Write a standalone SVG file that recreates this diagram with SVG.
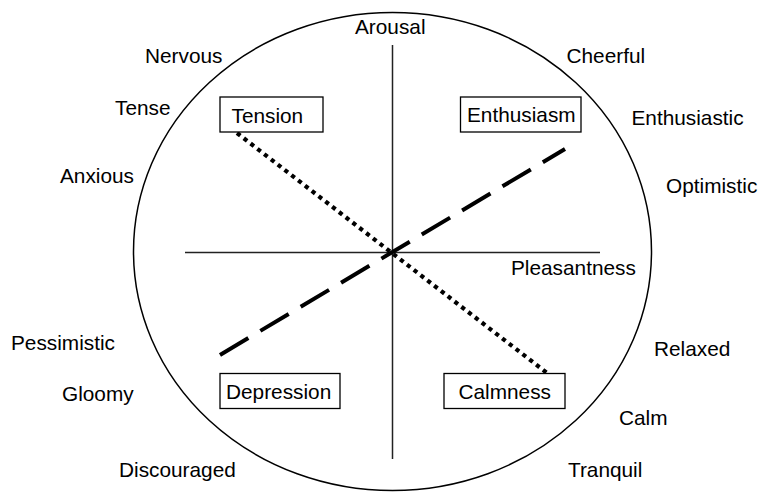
<svg xmlns="http://www.w3.org/2000/svg" width="760" height="493" viewBox="0 0 760 493">
<style>
text{font-family:"Liberation Sans",Arial,sans-serif;font-size:20.8px;fill:#000}
.box{fill:#fff;stroke:#000;stroke-width:1.3}
.axis{stroke:#222;stroke-width:1.5;fill:none}
</style>
<rect width="760" height="493" fill="#fff"/>
<ellipse cx="392.5" cy="251.5" rx="259" ry="239" fill="none" stroke="#000" stroke-width="1.5"/>
<g id="connectors">
<line class="axis" x1="392.5" y1="45" x2="392.5" y2="459"/>
<line class="axis" x1="185" y1="252.5" x2="600" y2="252.5"/>
<line x1="237" y1="133" x2="547" y2="373" stroke="#000" stroke-width="4.2" stroke-dasharray="4.2 4.4"/>
<line x1="220" y1="355" x2="565" y2="149" stroke="#000" stroke-width="4" stroke-dasharray="33 14"/>
</g>
<g id="tension"><rect class="box" x="220" y="97" width="103" height="35"/><text x="231.5" y="122.5">Tension</text></g>
<g id="enthusiasm"><rect class="box" x="460.5" y="97" width="120.5" height="35"/><text x="467" y="122">Enthusiasm</text></g>
<g id="depression"><rect class="box" x="220" y="373.5" width="120" height="35"/><text x="226" y="399">Depression</text></g>
<g id="calmness"><rect class="box" x="444" y="373.5" width="121" height="35"/><text x="458.5" y="399">Calmness</text></g>
<g id="labels">
<text x="355" y="34">Arousal</text>
<text x="145" y="62.5">Nervous</text>
<text x="566.5" y="62.5">Cheerful</text>
<text x="115" y="115">Tense</text>
<text x="631.5" y="125">Enthusiastic</text>
<text x="60" y="182.5">Anxious</text>
<text x="666" y="192.5">Optimistic</text>
<text x="511" y="275">Pleasantness</text>
<text x="11" y="350">Pessimistic</text>
<text x="654" y="356">Relaxed</text>
<text x="62" y="401">Gloomy</text>
<text x="619" y="425">Calm</text>
<text x="119" y="476.5">Discouraged</text>
<text x="568" y="476.5">Tranquil</text>
</g>
</svg>
